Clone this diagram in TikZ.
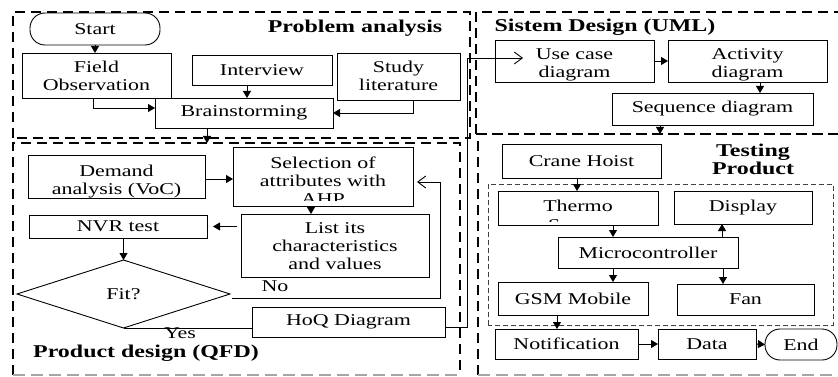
\documentclass[tikz,border=0pt]{standalone}
\usepackage{fontspec}
\setmainfont[FakeStretch=1.33]{Liberation Serif}
\usetikzlibrary{arrows.meta,shapes.geometric,calc}
\newcommand\regfont{\fontsize{16.5}{18}\selectfont}
\newcommand\boldfont{\fontsize{18}{18}\selectfont\bfseries}
\newcommand\tlines[1]{\begin{tabular}{@{}c@{}}#1\end{tabular}}
\newcommand\dnlines[2]{\raisebox{-#1}[\height][\depth]{\tlines{#2}}}
\begin{document}
\begin{tikzpicture}[x=1pt,y=-1pt,
  box/.style={draw, line width=0.9pt, inner sep=0pt, outer sep=0pt, align=center, font=\regfont},
  stad/.style={box, rounded corners=15pt},
  txt/.style={inner sep=0pt, outer sep=0pt, font=\regfont},
  title/.style={inner sep=0pt, outer sep=0pt, font=\boldfont},
  region/.style={inner sep=0pt, outer sep=0pt},
  rline/.style={line width=2pt, dash pattern=on 10pt off 6pt},
  rbottom/.style={line width=1.5pt, draw=black!35, dash pattern=on 12pt off 6pt},
  iline/.style={line width=0.8pt, draw=black!75, dash pattern=on 5pt off 3pt},
  arr/.style={line width=0.9pt, -{Triangle[length=7pt,width=8pt]}},
  oarr/.style={line width=0.9pt, -{Straight Barb[length=8pt,width=12pt]}},
  plain/.style={line width=0.9pt}]
\useasboundingbox (0,0) rectangle (838,377);
\clip (0,0) rectangle (838,377);

% ---- regions
\node[region, minimum width=457pt, minimum height=126pt] (pa) at (241.5,75) {};
\node[region, minimum width=374pt, minimum height=122pt] (sd) at (663,73) {};
\node[region, minimum width=447pt, minimum height=232pt] (pd) at (236.5,259) {};
\node[region, minimum width=372pt, minimum height=241pt] (tp) at (664,254.5) {};
\node[region, minimum width=345pt, minimum height=141pt] (inner) at (660.5,254.5) {};

\draw[rline] (pa.south west) -- (pa.north west) -- (pa.north east) -- (pa.south east) -- cycle;
\draw[rline] (sd.south west) -- (sd.north west) -- (sd.north east);
\draw[rline] (sd.south west) -- (sd.south east);
\draw[rline] (pd.south west) -- (pd.north west) -- (pd.north east) -- (pd.south east);
\draw[rbottom] (pd.south west) -- (pd.south east);
\draw[rline] (tp.south west) -- (tp.north west) -- (tp.north east);
\draw[rbottom] (tp.south west) -- (tp.south east);
\draw[iline] (inner.south west) rectangle (inner.north east);

% ---- titles
\node[title, anchor=base] (patitle) at (355,33) {Problem analysis};
\node[title, anchor=base] (sdtitle) at (605,32) {Sistem Design (UML)};
\node[title, anchor=base] (pdtitle) at (146,357) {Product design (QFD)};
\node[title] (tptitle) at (753,162.4) {\tlines{Testing\\Product}};

% ---- problem analysis
\node[stad, minimum width=130pt, minimum height=32pt] (start) at (95,29) {Start};
\node[box, minimum width=149pt, minimum height=45pt] (field) at (96.5,75.5) {\dnlines{2pt}{Field\\Observation}};
\node[box, minimum width=140pt, minimum height=30pt] (interview) at (262,70) {Interview};
\node[box, minimum width=123pt, minimum height=47pt] (study) at (398.5,76.5) {\dnlines{1.5pt}{Study\\literature}};
\node[box, minimum width=178pt, minimum height=30pt] (brain) at (244,113) {Brainstorming};

% ---- system design
\node[box, minimum width=159pt, minimum height=42pt] (usecase) at (574.5,61) {\dnlines{4pt}{Use case\\diagram}};
\node[box, minimum width=159pt, minimum height=42pt] (activity) at (747.5,61) {\dnlines{4pt}{Activity\\diagram}};
\node[box, minimum width=201pt, minimum height=32pt] (sequence) at (712.5,109) {Sequence diagram};

% ---- product design
\node[box, minimum width=177pt, minimum height=43pt] (demand) at (116.5,176.5) {\dnlines{5pt}{Demand\\analysis (VoC)}};
\node[box, minimum width=180pt, minimum height=59pt] (select) at (323,176.5) {};
\begin{scope}
  \clip ([yshift=6pt]select.south west) rectangle (select.north east);
  \node[txt] (selecttext) at ([yshift=-6pt]select.center) {\tlines{Selection of\\attributes with\\AHP}};
\end{scope}
\node[box, minimum width=188pt, minimum height=63pt] (list) at (335,245.5) {\dnlines{2pt}{List its\\characteristics\\and values}};
\node[box, minimum width=178pt, minimum height=23pt] (nvr) at (118,226.5) {NVR test};
\node[draw, diamond, line width=0.9pt, inner sep=0pt, outer sep=0pt, minimum width=213pt, minimum height=68pt, font=\regfont] (fit) at (123.5,294) {Fit?};
\node[box, minimum width=193pt, minimum height=30pt] (hoq) at (348.5,322) {HoQ Diagram};
\node[txt, anchor=base] (nolabel) at (275,291) {No};
\node[txt, anchor=base] (yeslabel) at (180,338) {Yes};

% ---- testing product
\node[box, minimum width=159pt, minimum height=34pt] (crane) at (581.5,161) {Crane Hoist};
\node[box, minimum width=160pt, minimum height=34pt] (thermo) at (578,208) {};
\begin{scope}
  \clip ([yshift=4pt]thermo.south west) rectangle (thermo.north east);
  \node[txt] (thermotext) at ([yshift=-9.4pt]thermo.center) {\tlines{Thermo\\Sensor}};
\end{scope}
\node[box, minimum width=138pt, minimum height=33pt] (display) at (743,207.5) {Display};
\node[box, minimum width=180pt, minimum height=31pt] (micro) at (648,252.5) {Microcontroller};
\node[box, minimum width=150pt, minimum height=33pt] (gsm) at (573,298.5) {GSM Mobile};
\node[box, minimum width=137pt, minimum height=31pt] (fan) at (745.5,299.5) {Fan};
\node[box, minimum width=143pt, minimum height=30pt] (notif) at (566.5,344) {Notification};
\node[box, minimum width=98pt, minimum height=30pt] (data) at (707,344) {Data};
\node[stad, minimum width=72pt, minimum height=31pt] (end) at (801,344.5) {End};

% ---- connectors: problem analysis
\draw[arr] (start.south) -- (start.south |- field.north);
\draw[arr] ([xshift=-3.5pt]field.south) |- ([yshift=5pt]brain.west);
\draw[arr] ([xshift=-15pt]interview.south) -- ([xshift=-15pt]interview.south |- brain.north);
\draw[arr] ([xshift=14.5pt]study.south) |- (brain.east);
\draw[arr] ([xshift=-37pt]brain.south) -- ([xshift=-37pt]brain.south |- pd.north);

% ---- connectors: system design
\coordinate (riser) at (467,58);
\draw[oarr] ([yshift=-5pt]hoq.east) -| (riser) -- ([xshift=28pt,yshift=3pt]usecase.west);
\draw[arr] (usecase.east) -- (activity.west);
\draw[arr] ([xshift=12.5pt]activity.south) -- ([xshift=12.5pt]activity.south |- sequence.north);
\draw[arr] ([xshift=-52.5pt]sequence.south) -- ([xshift=-52.5pt]sequence.south |- tp.north);

% ---- connectors: product design
\draw[arr] ([yshift=-2.5pt]demand.east) -- ([yshift=-2.5pt]demand.east -| select.west);
\draw[arr] ([xshift=-12pt]select.south) -- ([xshift=-12pt]select.south |- list.north);
\draw[arr] ([xshift=-4pt]list.west |- nvr.east) -- ([xshift=6pt]nvr.east);
\draw[arr] (fit.north |- nvr.south) -- (fit.north);
\coordinate (nocorner) at (440,298);
\draw[oarr] ([xshift=2pt,yshift=-4pt]fit.east) -- (nocorner) |- ([xshift=4pt,yshift=-5.5pt]select.east);
\draw[plain] (fit.south) -- (fit.south -| hoq.west);

% ---- connectors: testing
\draw[arr] ([xshift=-4.5pt]crane.south) -- ([xshift=-4.5pt]crane.south |- thermo.north);
\draw[arr] ([xshift=35pt]thermo.south) -- ([xshift=35pt]thermo.south |- micro.north);
\draw[arr] ([xshift=74pt]micro.north) -- ([xshift=74pt]micro.north |- display.south);
\draw[arr] ([xshift=-35pt]micro.south) -- ([xshift=-35pt]micro.south |- gsm.north);
\draw[arr] ([xshift=75pt]micro.south) -- ([xshift=75pt]micro.south |- fan.north);
\draw[arr] ([xshift=-16pt]gsm.south) -- ([xshift=-16pt]gsm.south |- notif.north);
\draw[arr] (notif.east) -- (data.west);
\draw[arr] (data.east) -- (end.west);
\end{tikzpicture}
\end{document}
